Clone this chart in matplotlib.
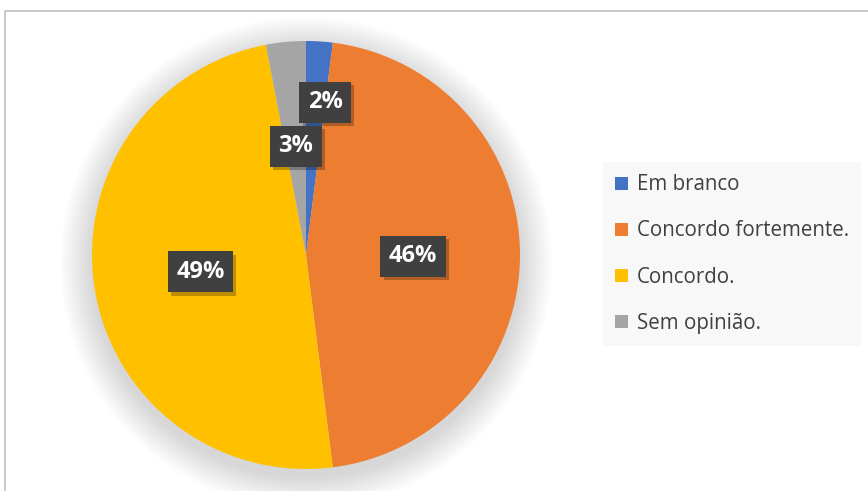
import matplotlib.pyplot as plt
import matplotlib.patches as mpatches
import matplotlib.patheffects as pe
import numpy as np

labels = ['Em branco', 'Concordo fortemente.', 'Concordo.', 'Sem opinião.']
values = [2, 46, 49, 3]
colors = ['#4472C4', '#ED7D31', '#FFC000', '#A5A5A5']
# how far from the centre each percentage sits, and a small angle nudge
label_dist = [0.72, 0.50, 0.50, 0.51]
label_nudge = [-3.5, -0.8, 0, 0]

plt.rcParams['font.family'] = ['Open Sans', 'DejaVu Sans']

W, H = 868, 491
fig = plt.figure(figsize=(W / 100, H / 100), dpi=100)
fig.patch.set_facecolor('white')

# chart area border (open to the right and bottom)
fig.add_artist(mpatches.Rectangle((5 / W, -0.2), 2.0, (H - 11) / H + 0.2,
                                  transform=fig.transFigure, fill=False,
                                  edgecolor='#bfbfbf', linewidth=1.2, clip_on=False))

cx, cy, r = 306, 255, 214
ax = fig.add_axes([(cx - r) / W, (H - cy - r) / H, 2 * r / W, 2 * r / H])
ax.set_xlim(-1, 1)
ax.set_ylim(-1, 1)
ax.axis('off')

# soft shadow behind the pie
for i in range(20):
    rad = 1.0 + 0.15 * (i + 1) / 20
    ax.add_patch(mpatches.Circle((0, -0.035), rad, facecolor='black',
                                 edgecolor='none', alpha=0.006, zorder=0, clip_on=False))

wedges, _ = ax.pie(values, colors=colors, startangle=90, counterclock=False,
                   radius=1.0, wedgeprops=dict(linewidth=0, zorder=2))
ax.set_xlim(-1, 1)
ax.set_ylim(-1, 1)

for w, v, d, nudge in zip(wedges, values, label_dist, label_nudge):
    ang = np.deg2rad((w.theta1 + w.theta2) / 2 + nudge)
    t = ax.text(d * np.cos(ang), d * np.sin(ang), f'{v}%', ha='center', va='center',
                color='white', fontsize=17, fontweight='bold', zorder=5,
                bbox=dict(boxstyle='square,pad=0.36', facecolor='#404040', edgecolor='none'))
    t.get_bbox_patch().set_path_effects([
        pe.SimplePatchShadow(offset=(2.5, -2.5), shadow_rgbFace='black', alpha=0.25),
        pe.Normal()])

handles = [mpatches.Patch(facecolor=c, edgecolor='none') for c in colors]
leg = fig.legend(handles, labels, loc='center left',
                 bbox_to_anchor=(603 / W, 1 - 254 / H),
                 frameon=True, facecolor='#f8f8f8', edgecolor='none', fancybox=False,
                 fontsize=14.8, labelcolor='#404040', handlelength=0.6, handleheight=0.6,
                 handletextpad=0.45, labelspacing=1.22, borderpad=0.6, borderaxespad=0)
leg.get_frame().set_alpha(1)

fig.savefig('out.png', dpi=100)
